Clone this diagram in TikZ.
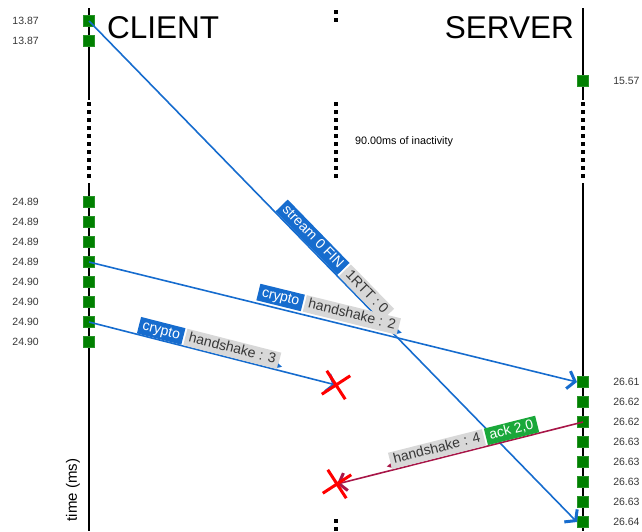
\documentclass[tikz,border=0pt]{standalone}
\usepackage{fontspec}
\setmainfont{Liberation Sans}
\newfontfamily\symfont{DejaVu Sans}
\usetikzlibrary{arrows.meta,positioning,shapes.misc}
\definecolor{pktblue}{RGB}{22,108,206}
\definecolor{tagGrey}{RGB}{216,216,216}
\definecolor{evGreen}{RGB}{0,128,0}
\definecolor{ackGreen}{RGB}{26,168,58}
\definecolor{hsRed}{RGB}{168,22,72}
\definecolor{txtGrey}{RGB}{55,55,55}
\setlength{\fboxsep}{1.5pt}
\newcommand{\tagstrut}{\vrule height 10.5pt depth 3.5pt width 0pt}
\newcommand{\bluetag}[1]{\colorbox{pktblue}{\tagstrut\,\color{white}#1\,}}
\newcommand{\greytag}[1]{\colorbox{tagGrey}{\tagstrut\,\color{txtGrey}#1\,}}
\newcommand{\acktag}[1]{\colorbox{ackGreen}{\tagstrut\,\color{white}#1\,}}
\newcommand{\rmark}[1]{\raisebox{-4.5pt}{\color{#1}\symfont\fontsize{9.5}{9.5}\selectfont ▸}}
\newcommand{\lmark}[1]{\raisebox{-4.5pt}{\color{#1}\symfont\fontsize{9.5}{9.5}\selectfont ◂}}
\tikzset{
  life/.style={line width=2pt},
  gap/.style={line width=4pt, dash pattern=on 4pt off 4pt},
  ev/.style={fill=evGreen, draw=evGreen!85!white, line width=0.6pt, minimum size=11.5pt, inner sep=0pt},
  stamp/.style={inner sep=0pt, text=txtGrey, font=\fontsize{10.5}{12}\selectfont},
  pkt/.style={line width=1.6pt, -{Straight Barb[length=7pt,width=18pt,line width=3pt]}},
  tag/.style={sloped, inner sep=0pt, font=\fontsize{14}{16}\selectfont},
  drop/.style={cross out, draw=red, line width=3pt, minimum size=21pt, inner sep=0pt, rotate=-12}
}
\begin{document}
\begin{tikzpicture}[x=1pt, y=-1pt, line cap=butt]
\useasboundingbox (0,0) rectangle (642,531);
% lifelines with gaps
\foreach \x in {89,583} {
  \draw[life] (\x,8) -- (\x,100) (\x,183) -- (\x,531);
  \draw[gap] (\x,102) -- (\x,178);
}
\draw[gap] (336,10) -- (336,22) (336,102) -- (336,178) (336,519) -- (336,531);
\node[anchor=west, inner sep=0pt, font=\fontsize{31.5}{36}\selectfont] (client) at (107,28) {CLIENT};
\node[anchor=east, inner sep=0pt, font=\fontsize{31.5}{36}\selectfont] (server) at (574,28) {SERVER};
\node[anchor=west, inner sep=0pt, font=\fontsize{10.8}{13}\selectfont] (idle) at (355,142) {90.00ms of inactivity};
\node[rotate=90, inner sep=0pt, font=\fontsize{15}{18}\selectfont] (axis) at (73,490) {time (ms)};
% events
\foreach \y/\t [count=\i] in {21/13.87,41/13.87,202/24.89,222/24.89,242/24.89,262/24.89,282/24.90,302/24.90,322/24.90,342/24.90} {
  \node[ev] (c\i) at (89,\y) {};
  \node[stamp, left=44pt of c\i] {\t};
}
\foreach \y/\t [count=\i] in {81/15.57,382/26.61,402/26.62,422/26.62,442/26.63,462/26.63,482/26.63,502/26.63,522/26.64} {
  \node[ev] (s\i) at (583,\y) {};
  \node[stamp, right=24pt of s\i] {\t};
}
\coordinate (lost1) at (336,385);
\coordinate (lost2) at (337,484);
% packets
\draw[pkt, pktblue] (c1.center) -- (s9.west)
  node[tag, pos=0.38, anchor=south west] (t1) {\bluetag{stream 0 FIN}\hspace{2pt}\greytag{1RTT : 0}\rmark{pktblue}};
\draw[pkt, pktblue] (c6.center) -- (s2.west)
  node[tag, pos=0.34, anchor=south west, yshift=2pt] (t2) {\bluetag{crypto}\hspace{2pt}\greytag{handshake : 2}\rmark{pktblue}};
\draw[pkt, pktblue] (c9.center) -- (lost1)
  node[tag, pos=0.19, anchor=south west] (t3) {\bluetag{crypto}\hspace{2pt}\greytag{handshake : 3}\rmark{pktblue}};
\draw[pkt, hsRed] (s4.center) -- (lost2)
  node[tag, pos=0.174, anchor=south east] (t4) {\lmark{hsRed}\greytag{handshake : 4}\hspace{2pt}\acktag{ack 2,0}};
\node[drop] (x1) at (lost1) {};
\node[drop] (x2) at (lost2) {};
\end{tikzpicture}
\end{document}
